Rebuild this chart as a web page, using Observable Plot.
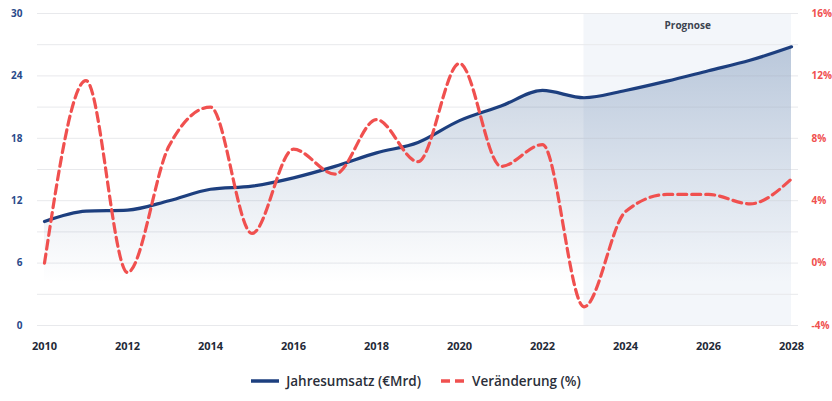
<!DOCTYPE html>
<html><head><meta charset="utf-8">
<script src="https://cdn.jsdelivr.net/npm/d3@7"></script>
<script src="https://cdn.jsdelivr.net/npm/@observablehq/plot@0.6"></script>
<style>
body{margin:0;background:#fff;font-family:"Open Sans",sans-serif;}
#chart svg{display:block;}
#legend{display:flex;justify-content:center;align-items:center;gap:20px;font-size:13.5px;color:#2b2f3a;font-weight:600;height:41px;margin-top:0;}
#legend span{display:flex;align-items:center;gap:7px;}
</style></head><body>
<div id="chart"></div>
<div id="legend">
  <span><svg width="28" height="6"><line x1="0" y1="3" x2="28" y2="3" stroke="#1d3f7f" stroke-width="3.5"/></svg>Jahresumsatz (€Mrd)</span>
  <span><svg width="24" height="6"><line x1="0" y1="3" x2="24" y2="3" stroke="#f0504f" stroke-width="3.5" stroke-dasharray="9,5"/></svg>Veränderung (%)</span>
</div>
<script>
const years = [2010,2011,2012,2013,2014,2015,2016,2017,2018,2019,2020,2021,2022,2023,2024,2025,2026,2027,2028];
const umsatz = [10.0,11.0,11.1,12.0,13.1,13.4,14.2,15.3,16.6,17.6,19.7,21.1,22.6,21.9,22.6,23.5,24.5,25.5,26.8];
const veraenderung = [0.0,11.7,-0.6,7.5,10.0,1.9,7.3,5.7,9.2,6.5,12.8,6.2,7.6,-2.8,3.3,4.4,4.4,3.8,5.4];
const leftTicks = [0,6,12,18,24,30];
const rightTicks = [-4,0,4,8,12,16];
const xTicks = [2010,2012,2014,2016,2018,2020,2022,2024,2026,2028];
const prognose = {start:2023, end:2028, label:"Prognose"};

const pctToY = p => (p + 4) * 1.5;
const data = years.map((y,i) => ({year:y, umsatz:umsatz[i], pct:pctToY(veraenderung[i])}));

const defs = () => {
  const g = d3.create("svg:g");
  const lg = g.append("defs").append("linearGradient").attr("id","areaGrad").attr("x1",0).attr("y1",0).attr("x2",0).attr("y2",1);
  lg.append("stop").attr("offset","0%").attr("stop-color","#1e4a86").attr("stop-opacity",0.27);
  lg.append("stop").attr("offset","45%").attr("stop-color","#1e4a86").attr("stop-opacity",0.12);
  lg.append("stop").attr("offset","85%").attr("stop-color","#1e4a86").attr("stop-opacity",0.0);
  return g.node();
};

const chart = Plot.plot({
  width: 832, height: 360,
  marginTop: 13, marginBottom: 35, marginLeft: 44, marginRight: 41,
  style: {fontFamily: "'Open Sans', sans-serif", background: "#fff"},
  x: {domain: [2010, 2028]},
  y: {domain: [0, 30]},
  marks: [
    defs,
    Plot.rect([prognose], {x1: "start", x2: "end", y1: 0, y2: 30, fill: "#f3f6fa"}),
    Plot.ruleY(d3.range(0, 31, 3), {stroke: "#e8e9ec", strokeWidth: 1, insetLeft: -7, insetRight: -7}),
    Plot.areaY(data, {x: "year", y: "umsatz", curve: "monotone-x", fill: "url(#areaGrad)"}),
    Plot.line(data, {x: "year", y: "umsatz", curve: "monotone-x", stroke: "#1d3f7f", strokeWidth: 3.2}),
    Plot.line(data, {x: "year", y: "pct", curve: "monotone-x", stroke: "#f0504f", strokeWidth: 3.2, strokeDasharray: "9,5"}),
    Plot.text([prognose], {x: d => (d.start + d.end) / 2, y: 30, dy: 12, text: "label", fontSize: 10, fontWeight: 700, fill: "#3d4450"}),
    Plot.axisY(leftTicks, {anchor: "left", tickSize: 0, tickPadding: 22, fontSize: 10, fontWeight: 700, color: "#2a4a8a", label: null}),
    Plot.axisY(rightTicks.map(pctToY), {anchor: "right", tickSize: 0, tickPadding: 20, fontSize: 10, fontWeight: 700, color: "#f0504f", label: null, tickFormat: d => `${Math.round(d / 1.5 - 4)}%`}),
    Plot.axisX(xTicks, {anchor: "bottom", tickSize: 0, tickPadding: 17, fontSize: 11, fontWeight: 700, color: "#1f2a37", label: null, tickFormat: d => String(d)})
  ]
});
document.getElementById("chart").appendChild(chart);
</script>
</body></html>
